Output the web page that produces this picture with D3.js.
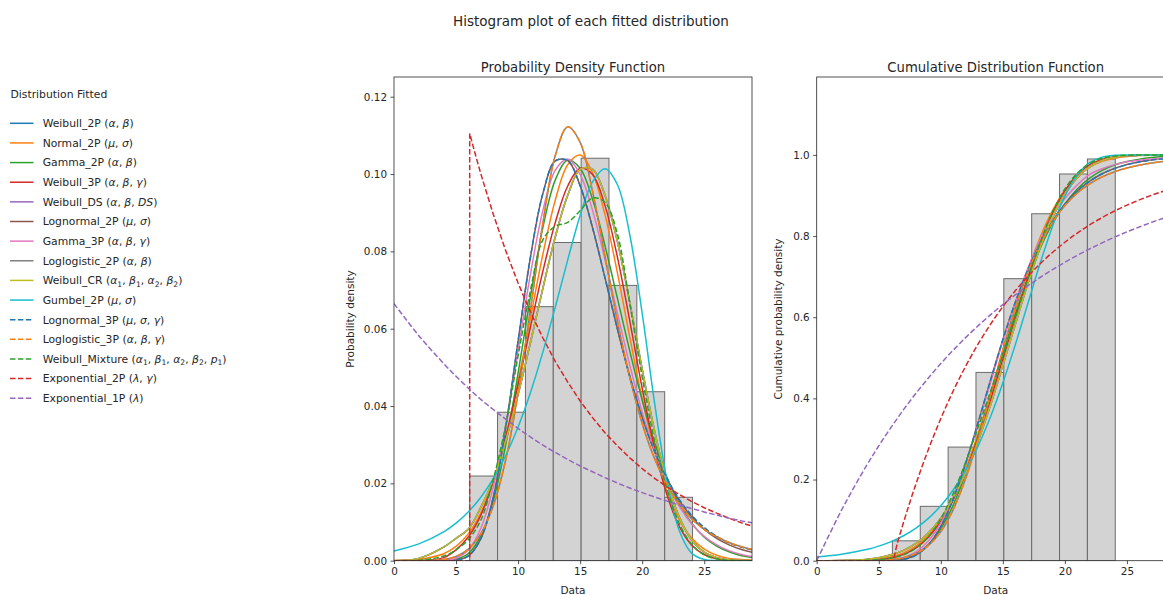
<!DOCTYPE html>
<html>
<head>
<meta charset="utf-8">
<script src="https://cdn.jsdelivr.net/npm/d3@7"></script>
<style>
  body { margin: 0; background: #fff; }
  text { font-family: "DejaVu Sans", sans-serif; fill: #262626; }
</style>
</head>
<body>
<svg id="chart" width="1163" height="595"></svg>
<script>
// ---- data ----
var xGrid = [0, 2, 4, 5, 6, 7, 8, 9, 10, 11, 12, 13, 14, 15, 16, 17, 18, 19, 20, 21, 22, 23, 24, 25, 26, 27, 28, 29];

var binEdges = [6.1, 8.345, 10.59, 12.835, 15.08, 17.325, 19.57, 21.815, 24.06];
var histPdf = [0.0219, 0.0384, 0.0657, 0.0823, 0.1041, 0.0712, 0.0437, 0.0164];
var histCdf = [0.049, 0.134, 0.28, 0.464, 0.695, 0.855, 0.953, 0.99];

var weibull2pPdf = [0, 0.0006, 0.0035, 0.0058, 0.0082, 0.0138, 0.021, 0.031, 0.043, 0.0565, 0.0705, 0.0838, 0.0945, 0.1012, 0.1013, 0.0945, 0.0826, 0.0668, 0.0495, 0.0335, 0.0205, 0.0112, 0.0053, 0.0022, 0.0008, 0.0002, 0.0001, 0];
var weibull2pCdf = [0, 0.0003, 0.003, 0.0075, 0.0145, 0.0255, 0.0425, 0.068, 0.1045, 0.154, 0.217, 0.294, 0.383, 0.481, 0.582, 0.681, 0.771, 0.846, 0.903, 0.944, 0.9705, 0.9862, 0.9942, 0.9978, 0.9993, 0.9998, 1, 1];
var normalPdf = [0.00005, 0.00035, 0.0018, 0.0037, 0.007, 0.0124, 0.0207, 0.0321, 0.0465, 0.0628, 0.0793, 0.0933, 0.1024, 0.1049, 0.1003, 0.0895, 0.0745, 0.0578, 0.0419, 0.0283, 0.0179, 0.0105, 0.0058, 0.003, 0.0014, 0.0006, 0.0003, 0.0001];
var normalCdf = [0.00005, 0.0004, 0.0022, 0.0048, 0.0099, 0.0194, 0.0357, 0.0619, 0.101, 0.1555, 0.2266, 0.3131, 0.4114, 0.5157, 0.619, 0.7143, 0.7964, 0.8626, 0.9123, 0.9472, 0.9701, 0.984, 0.992, 0.9962, 0.9983, 0.9993, 0.9997, 0.9999];
var gamma2pPdf = [0, 0, 0.0001, 0.0004, 0.0019, 0.0064, 0.0155, 0.0299, 0.0485, 0.0684, 0.0862, 0.0985, 0.1036, 0.1015, 0.0935, 0.0815, 0.0679, 0.0542, 0.0415, 0.0305, 0.0215, 0.0146, 0.0096, 0.0061, 0.0038, 0.0023, 0.0013, 0.0008];
var gamma2pCdf = [0, 0, 0.0001, 0.0003, 0.0015, 0.0058, 0.0165, 0.0392, 0.079, 0.137, 0.214, 0.306, 0.407, 0.51, 0.607, 0.694, 0.769, 0.831, 0.879, 0.916, 0.943, 0.962, 0.975, 0.9838, 0.9896, 0.9935, 0.9961, 0.9977];
var weibull3pPdf = [0, 0, 0.0008, 0.0028, 0.0062, 0.0118, 0.0205, 0.032, 0.0455, 0.0605, 0.0749, 0.0875, 0.0969, 0.1015, 0.0999, 0.0919, 0.0786, 0.062, 0.0446, 0.0291, 0.017, 0.0088, 0.004, 0.0016, 0.0005, 0.00015, 0.00004, 0];
var weibull3pCdf = [0, 0, 0.0004, 0.0021, 0.0066, 0.0155, 0.0317, 0.058, 0.097, 0.15, 0.219, 0.302, 0.396, 0.497, 0.599, 0.697, 0.784, 0.856, 0.912, 0.951, 0.976, 0.989, 0.9955, 0.998, 0.9993, 0.9998, 1, 1];
var weibullDsPdf = [0, 0.0006, 0.0035, 0.0058, 0.0082, 0.0138, 0.021, 0.031, 0.043, 0.0565, 0.0705, 0.0838, 0.0945, 0.1012, 0.1013, 0.0945, 0.0826, 0.0668, 0.0495, 0.0335, 0.0205, 0.0112, 0.0053, 0.0022, 0.0008, 0.0002, 0.0001, 0];
var weibullDsCdf = [0, 0.0003, 0.003, 0.0075, 0.0145, 0.0255, 0.0425, 0.068, 0.1045, 0.154, 0.217, 0.294, 0.383, 0.481, 0.582, 0.681, 0.771, 0.846, 0.903, 0.944, 0.9705, 0.9862, 0.9942, 0.9978, 0.9993, 0.9998, 1, 1];
var lognormal2pPdf = [0, 0, 0, 0.00013, 0.00124, 0.0057, 0.0164, 0.0344, 0.0568, 0.0786, 0.095, 0.1034, 0.1035, 0.097, 0.0861, 0.0732, 0.06, 0.0477, 0.0371, 0.0282, 0.0211, 0.0155, 0.0113, 0.0081, 0.0058, 0.0041, 0.0029, 0.0021];
var lognormal2pCdf = [0, 0, 0, 0.00004, 0.0006, 0.0036, 0.014, 0.039, 0.0843, 0.1523, 0.2396, 0.3395, 0.4437, 0.5444, 0.6362, 0.7159, 0.7825, 0.8361, 0.8784, 0.9109, 0.9353, 0.9535, 0.9668, 0.9765, 0.9834, 0.9883, 0.9918, 0.9943];
var gamma3pPdf = [0, 0, 0.0001, 0.00065, 0.0028, 0.0084, 0.019, 0.0349, 0.0544, 0.0742, 0.0906, 0.101, 0.1039, 0.0999, 0.0906, 0.0779, 0.0641, 0.0506, 0.0385, 0.0283, 0.0202, 0.014, 0.0095, 0.0063, 0.0041, 0.0026, 0.0016, 0.001];
var gamma3pCdf = [0, 0, 0.0001, 0.0005, 0.0022, 0.0078, 0.0215, 0.0485, 0.0932, 0.1575, 0.2399, 0.3357, 0.4382, 0.5401, 0.6354, 0.7197, 0.7907, 0.8481, 0.8927, 0.9261, 0.952, 0.966, 0.976, 0.983, 0.987, 0.99, 0.992, 0.994];
var loglogistic2pPdf = [0, 0, 0.00033, 0.0011, 0.003, 0.007, 0.0142, 0.0261, 0.0434, 0.065, 0.0874, 0.1048, 0.1122, 0.1082, 0.0955, 0.0788, 0.062, 0.0474, 0.0355, 0.0264, 0.0196, 0.0145, 0.0108, 0.0081, 0.0062, 0.0047, 0.0036, 0.0028];
var loglogistic2pCdf = [0, 0, 0.0002, 0.00085, 0.0028, 0.0076, 0.0178, 0.0376, 0.0719, 0.126, 0.2023, 0.299, 0.4085, 0.5195, 0.622, 0.7093, 0.7797, 0.834, 0.8752, 0.906, 0.9287, 0.9457, 0.9582, 0.9677, 0.9747, 0.9801, 0.9843, 0.9874];
var weibullCrPdf = [0, 0.0006, 0.0035, 0.0058, 0.0082, 0.0138, 0.021, 0.031, 0.043, 0.0565, 0.0705, 0.0838, 0.0945, 0.1012, 0.1013, 0.0945, 0.0826, 0.0668, 0.0495, 0.0335, 0.0205, 0.0112, 0.0053, 0.0022, 0.0008, 0.0002, 0.0001, 0];
var weibullCrCdf = [0, 0.0003, 0.003, 0.0075, 0.0145, 0.0255, 0.0425, 0.068, 0.1045, 0.154, 0.217, 0.294, 0.383, 0.481, 0.582, 0.681, 0.771, 0.846, 0.903, 0.944, 0.9705, 0.9862, 0.9942, 0.9978, 0.9993, 0.9998, 1, 1];
var gumbel2pPdf = [0.00252, 0.00434, 0.00745, 0.00973, 0.01267, 0.01643, 0.0212, 0.0272, 0.0346, 0.0435, 0.054, 0.0656, 0.0778, 0.0893, 0.098, 0.1014, 0.0973, 0.0843, 0.064, 0.0408, 0.0207, 0.0077, 0.0019, 0.0003, 0, 0, 0, 0];
var gumbel2pCdf = [0.0092, 0.0159, 0.0274, 0.0359, 0.047, 0.0615, 0.0803, 0.1044, 0.1352, 0.1741, 0.2228, 0.2825, 0.3543, 0.438, 0.5319, 0.6321, 0.7322, 0.8237, 0.8983, 0.9508, 0.9811, 0.9946, 0.999, 0.9999, 1, 1, 1, 1];
var lognormal3pPdf = [0, 0, 0, 0.00013, 0.00124, 0.0057, 0.0164, 0.0344, 0.0568, 0.0786, 0.095, 0.1034, 0.1035, 0.097, 0.0861, 0.0732, 0.06, 0.0477, 0.0371, 0.0283, 0.0213, 0.0158, 0.0117, 0.0086, 0.0063, 0.0046, 0.0035, 0.0027];
var lognormal3pCdf = [0, 0, 0, 0.00004, 0.0006, 0.0036, 0.014, 0.039, 0.0843, 0.1523, 0.2396, 0.3395, 0.4437, 0.5444, 0.6362, 0.7159, 0.7825, 0.8361, 0.8784, 0.9109, 0.9353, 0.9535, 0.9664, 0.9758, 0.9825, 0.9872, 0.9905, 0.993];
var loglogistic3pPdf = [0, 0, 0.00033, 0.0011, 0.003, 0.007, 0.0142, 0.0261, 0.0434, 0.065, 0.0874, 0.1048, 0.1122, 0.1082, 0.0955, 0.0788, 0.062, 0.0474, 0.0355, 0.0264, 0.0196, 0.0145, 0.0108, 0.0081, 0.0062, 0.0047, 0.0036, 0.0028];
var loglogistic3pCdf = [0, 0, 0.0002, 0.00085, 0.0028, 0.0076, 0.0178, 0.0376, 0.0719, 0.126, 0.2023, 0.299, 0.4085, 0.5195, 0.622, 0.7093, 0.7797, 0.834, 0.8752, 0.906, 0.9287, 0.9457, 0.9582, 0.9677, 0.9747, 0.9801, 0.9843, 0.9874];
var weibullMixPdf = [0, 0.0001, 0.0012, 0.0028, 0.0055, 0.0105, 0.021, 0.035, 0.053, 0.07, 0.083, 0.0865, 0.0875, 0.0905, 0.0938, 0.0927, 0.0845, 0.0665, 0.0475, 0.031, 0.0185, 0.0095, 0.0042, 0.0015, 0.0005, 0.0001, 0, 0];
var weibullMixCdf = [0, 0, 0.0005, 0.0025, 0.0068, 0.0148, 0.0308, 0.0591, 0.1035, 0.1656, 0.2428, 0.3284, 0.4162, 0.506, 0.599, 0.6932, 0.7827, 0.8589, 0.916, 0.955, 0.979, 0.992, 0.997, 0.9992, 1, 1, 1, 1];

var expo2pPdfX = [0, 6.1, 6.1, 6.5, 7, 8, 9, 10, 11, 12, 13, 14, 15, 16, 17, 18, 19, 20, 21, 22, 23, 24, 25, 26, 27, 28, 29];
var expo2pPdf = [0, 0, 0.1105, 0.1057, 0.1, 0.0896, 0.0802, 0.0718, 0.0643, 0.0576, 0.0515, 0.0462, 0.0413, 0.037, 0.0331, 0.0297, 0.0266, 0.0238, 0.0213, 0.0191, 0.0171, 0.0153, 0.0137, 0.0123, 0.011, 0.0098, 0.0088];
var expo2pCdfX = [0, 6.1, 6.5, 7, 8, 9, 10, 11, 12, 13, 14, 15, 16, 17, 18, 19, 20, 21, 22, 23, 24, 25, 26, 27, 28, 29];
var expo2pCdf = [0, 0, 0.0432, 0.0946, 0.1894, 0.2742, 0.3501, 0.4181, 0.479, 0.5335, 0.5823, 0.626, 0.6651, 0.7001, 0.7315, 0.7596, 0.7847, 0.8073, 0.8274, 0.8455, 0.8617, 0.8761, 0.8891, 0.9007, 0.9111, 0.9204];
var expo1pPdf = [0.0665, 0.0582, 0.051, 0.0477, 0.0446, 0.0417, 0.0391, 0.0366, 0.0342, 0.032, 0.0299, 0.028, 0.0262, 0.0245, 0.023, 0.0215, 0.0201, 0.0188, 0.0176, 0.0165, 0.0154, 0.0144, 0.0135, 0.0126, 0.0118, 0.011, 0.0103, 0.0097];
var expo1pCdf = [0, 0.1245, 0.2336, 0.2829, 0.329, 0.3722, 0.4126, 0.4503, 0.4857, 0.5188, 0.5498, 0.5787, 0.6058, 0.6312, 0.6549, 0.6771, 0.6979, 0.7173, 0.7355, 0.7525, 0.7684, 0.7833, 0.7973, 0.8103, 0.8225, 0.8339, 0.8446, 0.8546];

var distNames = ["Weibull_2P", "Normal_2P", "Gamma_2P", "Weibull_3P", "Weibull_DS", "Lognormal_2P", "Gamma_3P", "Loglogistic_2P", "Weibull_CR", "Gumbel_2P", "Lognormal_3P", "Loglogistic_3P", "Weibull_Mixture", "Exponential_2P", "Exponential_1P"];
var distParams = ["α,β", "μ,σ", "α,β", "α,β,γ", "α,β,DS", "μ,σ", "α,β,γ", "α,β", "α1,β1,α2,β2", "μ,σ", "μ,σ,γ", "α,β,γ", "α1,β1,α2,β2,p1", "λ,γ", "λ"];
var distColors = ["#1f77b4", "#ff7f0e", "#2ca02c", "#d62728", "#9467bd", "#8c564b", "#e377c2", "#7f7f7f", "#bcbd22", "#17becf", "#1f77b4", "#ff7f0e", "#2ca02c", "#d62728", "#9467bd"];
var pdfTicksY = [0, 0.02, 0.04, 0.06, 0.08, 0.10, 0.12];
var cdfTicksY = [0, 0.2, 0.4, 0.6, 0.8, 1.0];
var dataTicksX = [0, 5, 10, 15, 20, 25];

var pdfSeries = [weibull2pPdf, normalPdf, gamma2pPdf, weibull3pPdf, weibullDsPdf, lognormal2pPdf, gamma3pPdf, loglogistic2pPdf, weibullCrPdf, gumbel2pPdf, lognormal3pPdf, loglogistic3pPdf, weibullMixPdf, expo2pPdf, expo1pPdf];
var cdfSeries = [weibull2pCdf, normalCdf, gamma2pCdf, weibull3pCdf, weibullDsCdf, lognormal2pCdf, gamma3pCdf, loglogistic2pCdf, weibullCrCdf, gumbel2pCdf, lognormal3pCdf, loglogistic3pCdf, weibullMixCdf, expo2pCdf, expo1pCdf];

var svg = d3.select("#chart");
var defs = svg.append("defs");

svg.append("text").attr("x", 591).attr("y", 26).attr("text-anchor", "middle")
    .style("font-size", "13.5px").text("Histogram plot of each fitted distribution");

function panel(opts) {
    var x = d3.scaleLinear().domain([0, 28.85]).range([opts.left, opts.left + 358]);
    var y = d3.scaleLinear().domain([0, opts.ymax]).range([560.7, 77]);
    var g = svg.append("g");

    defs.append("clipPath").attr("id", opts.id)
        .append("rect").attr("x", opts.left).attr("y", 77).attr("width", 358).attr("height", 483.7);

    var plot = g.append("g").attr("clip-path", "url(#" + opts.id + ")");

    // histogram
    plot.selectAll("rect.bar").data(opts.hist).enter().append("rect")
        .attr("class", "bar")
        .attr("x", function (d, i) { return x(binEdges[i]); })
        .attr("width", function (d, i) { return x(binEdges[i + 1]) - x(binEdges[i]); })
        .attr("y", function (d) { return y(d); })
        .attr("height", function (d) { return y(0) - y(d); })
        .attr("fill", "#d3d3d3").attr("stroke", "#6b6b6b").attr("stroke-width", 1);

    opts.series.forEach(function (vals, i) {
        var xs = xGrid, curve = d3.curveCatmullRom.alpha(0.5);
        if (i == 13) {
            xs = opts.expoX;
            curve = opts.expoCurve;
        }
        var pts = vals.map(function (v, j) { return [xs[j], v]; });
        var line = d3.line()
            .x(function (d) { return x(d[0]); })
            .y(function (d) { return y(d[1]); })
            .curve(curve);
        plot.append("path").attr("d", line(pts))
            .attr("fill", "none")
            .attr("stroke", distColors[i])
            .attr("stroke-width", 1.5)
            .attr("stroke-dasharray", i >= 10 ? "5.5,2.4" : null);
    });

    var xAxis = g.append("g").attr("transform", "translate(0,560.7)")
        .call(d3.axisBottom(x).tickValues(dataTicksX).tickFormat(d3.format("d")).tickSize(3.5).tickPadding(3.5));
    var yAxis = g.append("g").attr("transform", "translate(" + opts.left + ",0)")
        .call(d3.axisLeft(y).tickValues(opts.ticksY).tickFormat(d3.format(opts.fmt)).tickSize(3.5).tickPadding(3.5));
    [xAxis, yAxis].forEach(function (a) {
        a.select(".domain").remove();
        a.selectAll("line").attr("stroke", "#262626").attr("stroke-width", 0.8);
        a.selectAll("text").style("font-size", "10.4px").attr("fill", "#262626");
    });

    g.append("rect").attr("x", opts.left).attr("y", 77).attr("width", 358).attr("height", 483.7)
        .attr("fill", "none").attr("stroke", "#262626").attr("stroke-width", 0.8);

    g.append("text").attr("x", opts.left + 179).attr("y", 71.5).attr("text-anchor", "middle")
        .style("font-size", "13.2px").text(opts.title);
    g.append("text").attr("x", opts.left + 179).attr("y", 594).attr("text-anchor", "middle")
        .style("font-size", "10.5px").text("Data");
    g.append("text").attr("transform", "translate(" + opts.ylabX + ",319) rotate(-90)")
        .attr("text-anchor", "middle").style("font-size", "10.5px").text(opts.ylab);
}

panel({ id: "clipPdf", left: 394, ymax: 0.1251, hist: histPdf, series: pdfSeries, ticksY: pdfTicksY, fmt: ".2f",
    expoX: expo2pPdfX, expoCurve: d3.curveLinear,
    title: "Probability Density Function", ylab: "Probability density", ylabX: 354 });
panel({ id: "clipCdf", left: 816.7, ymax: 1.192, hist: histCdf, series: cdfSeries, ticksY: cdfTicksY, fmt: ".1f",
    expoX: expo2pCdfX, expoCurve: d3.curveMonotoneX,
    title: "Cumulative Distribution Function", ylab: "Cumulative probability density", ylabX: 782 });

// legend
var legend = svg.append("g");
legend.append("text").attr("x", 10.5).attr("y", 97.5).style("font-size", "10.8px").text("Distribution Fitted");

distNames.forEach(function (name, i) {
    var cy = 123.3 + i * 19.64;
    legend.append("line").attr("x1", 10).attr("x2", 33.5).attr("y1", cy).attr("y2", cy)
        .attr("stroke", distColors[i]).attr("stroke-width", 1.5)
        .attr("stroke-dasharray", i >= 10 ? "5.5,2.4" : null);
    var t = legend.append("text").attr("x", 42.7).attr("y", cy + 3.8).style("font-size", "10.8px");
    t.append("tspan").text(name + " (");
    var shift = 0;
    distParams[i].split(",").forEach(function (p, k) {
        if (k > 0) t.append("tspan").attr("dy", -shift).text(", "), shift = 0;
        var m = p.match(/^(\D+)(\d)?$/);
        t.append("tspan").attr("dy", -shift).attr("font-style", "italic").text(m[1]);
        shift = 0;
        if (m[2]) {
            t.append("tspan").attr("dy", 2.6).style("font-size", "7.6px").text(m[2]);
            shift = 2.6;
        }
    });
    t.append("tspan").attr("dy", -shift).text(")");
});
</script>
</body>
</html>
